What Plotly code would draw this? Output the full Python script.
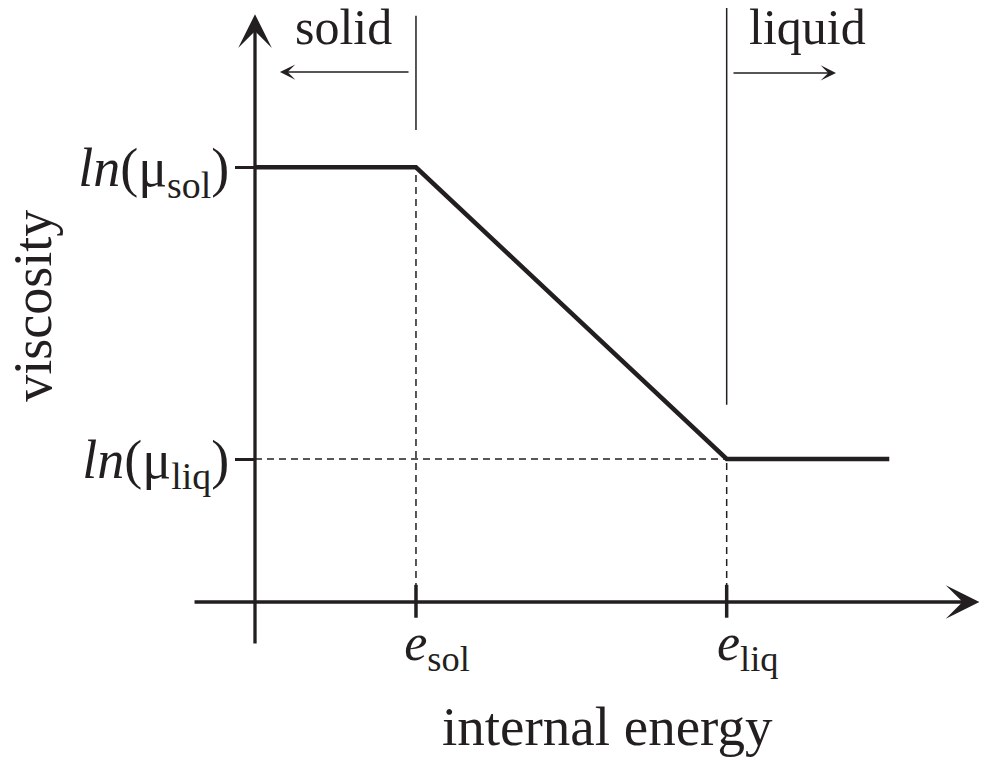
import plotly.graph_objects as go

# Piecewise-linear viscosity model across the solid/liquid transition
e_sol, e_liq = 1.0, 2.93
energy = [0.0, e_sol, e_liq, 3.94]
ln_mu_sol, ln_mu_liq = 3.04, 1.0
ln_mu = [ln_mu_sol, ln_mu_sol, ln_mu_liq, ln_mu_liq]

energy_ticks = [e_sol, e_liq]
energy_ticktext = ["<i>e</i><sub>sol</sub>", "<i>e</i><sub>liq</sub>"]
mu_ticks = [ln_mu_liq, ln_mu_sol]
mu_ticktext = ["<i>ln</i>(μ<sub>liq</sub>)", "<i>ln</i>(μ<sub>sol</sub>)"]

X_RANGE = [-1.584, 4.516]
Y_RANGE = [-1.112, 4.210]
FONT = "Liberation Serif"
INK = "#231f20"

fig = go.Figure()

fig.add_trace(go.Scatter(
    x=energy, y=ln_mu, mode="lines",
    line=dict(color=INK, width=4.5),
    hoverinfo="skip",
))

dash = dict(color=INK, width=1.5, dash="7px,5px")
shapes = [
    # guide lines from the kinks to the axes
    dict(type="line", x0=e_sol, x1=e_sol, y0=0, y1=ln_mu_sol, line=dash),
    dict(type="line", x0=e_liq, x1=e_liq, y0=0, y1=ln_mu_liq, line=dash),
    dict(type="line", x0=0, x1=e_liq, y0=ln_mu_liq, y1=ln_mu_liq, line=dash),
    # phase boundary markers
    dict(type="line", x0=e_sol, x1=e_sol, y0=3.30, y1=4.10,
         line=dict(color=INK, width=1.5)),
    dict(type="line", x0=e_liq, x1=e_liq, y0=1.38, y1=4.154,
         line=dict(color=INK, width=1.5)),
]
# tick marks crossing the energy axis
for e in energy_ticks:
    shapes.append(dict(type="line", x0=e, x1=e, y0=-0.11, y1=0.12,
                       line=dict(color=INK, width=3.5)))

annotations = [
    # energy axis with arrowhead
    dict(x=4.50, y=0, ax=-0.385, ay=0, xref="x", yref="y", axref="x", ayref="y",
         showarrow=True, arrowhead=3, arrowwidth=3.3, arrowsize=1.7,
         arrowcolor=INK, text=""),
    # viscosity axis with arrowhead
    dict(x=0, y=4.11, ax=0, ay=-0.30, xref="x", yref="y", axref="x", ayref="y",
         showarrow=True, arrowhead=3, arrowwidth=3.3, arrowsize=1.7,
         arrowcolor=INK, text=""),
    # solid / liquid direction arrows
    dict(x=0.155, y=3.706, ax=0.963, ay=3.706, xref="x", yref="y", axref="x", ayref="y",
         showarrow=True, arrowhead=3, arrowwidth=1.6, arrowsize=1.6,
         arrowcolor=INK, text=""),
    dict(x=3.609, y=3.70, ax=2.963, ay=3.70, xref="x", yref="y", axref="x", ayref="y",
         showarrow=True, arrowhead=3, arrowwidth=1.6, arrowsize=1.6,
         arrowcolor=INK, text=""),
    dict(x=0.547, y=4.02, xref="x", yref="y", text="solid", showarrow=False,
         borderpad=0, font=dict(family=FONT, size=50, color=INK)),
    dict(x=3.435, y=4.02, xref="x", yref="y", text="liquid", showarrow=False,
         borderpad=0, font=dict(family=FONT, size=50, color=INK)),
    dict(x=-1.38, y=2.07, xref="x", yref="y", text="viscosity", showarrow=False,
         textangle=-90, font=dict(family=FONT, size=54, color=INK)),
    dict(x=2.19, y=-0.87, xref="x", yref="y", text="internal energy", showarrow=False,
         font=dict(family=FONT, size=55, color=INK)),
]

fig.update_layout(
    width=982, height=761,
    margin=dict(l=0, r=0, t=0, b=0),
    paper_bgcolor="white", plot_bgcolor="white",
    showlegend=False,
    shapes=shapes,
    annotations=annotations,
    xaxis=dict(
        range=X_RANGE, domain=[0, 1], anchor="free",
        position=-Y_RANGE[0] / (Y_RANGE[1] - Y_RANGE[0]),
        showgrid=False, zeroline=False, showline=False,
        tickvals=energy_ticks, ticktext=energy_ticktext,
        ticks="", ticklabelshift=21, ticklabelstandoff=5,
        tickfont=dict(family=FONT, size=52, color=INK),
        fixedrange=True,
    ),
    yaxis=dict(
        range=Y_RANGE, domain=[0, 1], anchor="free",
        position=-X_RANGE[0] / (X_RANGE[1] - X_RANGE[0]),
        showgrid=False, zeroline=False, showline=False,
        tickvals=mu_ticks, ticktext=mu_ticktext,
        ticks="outside", ticklen=20, tickwidth=3, tickcolor=INK,
        ticklabelstandoff=-5,
        tickfont=dict(family=FONT, size=54, color=INK),
        fixedrange=True,
    ),
)

fig.write_html("out.html", config={"displayModeBar": False})
